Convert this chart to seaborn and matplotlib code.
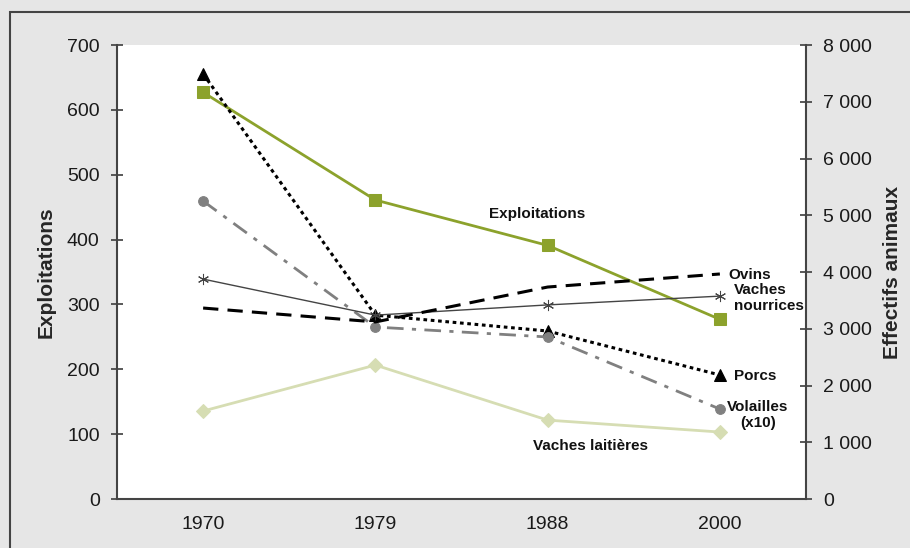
import numpy as np
import pandas as pd
import seaborn as sns
import matplotlib.pyplot as plt
from matplotlib.patches import Rectangle

# Data
years = ['1970', '1979', '1988', '2000']
exploitations = [627, 461, 391, 277]
porcs = [7490, 3240, 2960, 2185]
volailles = [5250, 3030, 2855, 1585]
vaches_nourrices = [3875, 3240, 3420, 3575]
ovins = [3365, 3120, 3735, 3965]
vaches_laitieres = [1550, 2360, 1390, 1180]

sns.set_theme(style='white')
plt.rcParams['font.family'] = ['Liberation Sans', 'DejaVu Sans']

fig = plt.figure(figsize=(9.1, 5.48), dpi=100)
fig.patch.set_facecolor('#e6e6e6')
fig.patches.append(Rectangle((10 / 910, -0.1), 1.0, 1 - 12 / 548 + 0.1,
                             transform=fig.transFigure, fill=False,
                             edgecolor='#444444', lw=1.5))

ax = fig.add_axes([117 / 910, 1 - 499 / 548, (806 - 117) / 910, (499 - 45) / 548])
ax2 = ax.twinx()
x = np.arange(len(years))

df_left = pd.DataFrame({'x': x, 'val': exploitations})
sns.lineplot(data=df_left, x='x', y='val', ax=ax, color='#8ca22c', lw=2,
             marker='s', markersize=8, markeredgecolor='#8ca22c')

animals = [
    (porcs, dict(color='black', ls=(0, (1.2, 1.2)), lw=2.2, marker='^', markersize=8)),
    (volailles, dict(color='#808080', ls=(0, (6, 3, 1.5, 3)), lw=2, marker='o', markersize=7)),
    (vaches_nourrices, dict(color='#444444', ls='-', lw=1, marker=(6, 2, 0), markersize=8)),
    (ovins, dict(color='black', ls=(0, (5, 3)), lw=2.2, marker=None)),
    (vaches_laitieres, dict(color='#d6ddb3', ls='-', lw=2, marker='D', markersize=7)),
]
for vals, kw in animals:
    d = pd.DataFrame({'x': x, 'val': vals})
    mk = kw.pop('marker')
    if mk is None:
        sns.lineplot(data=d, x='x', y='val', ax=ax2, **kw)
    else:
        sns.lineplot(data=d, x='x', y='val', ax=ax2, marker=mk,
                     markeredgecolor=kw['color'], **kw)

ax.set_xlim(-0.5, 3.5)
ax.set_ylim(0, 700)
ax2.set_ylim(0, 8000)
ax.set_yticks(range(0, 701, 100))
ax2.set_yticks(range(0, 8001, 1000))
ax2.set_yticklabels(['0'] + [f'{v // 1000} 000' for v in range(1000, 8001, 1000)])
ax.set_xticks(np.arange(-0.5, 3.6, 1))
ax.set_xticklabels([])
ax.set_xticks(x, minor=True)
ax.set_xticklabels(years, minor=True)
ax.tick_params(axis='x', which='minor', length=0, pad=12, labelsize=14, labelcolor='#1a1a1a')
ax.tick_params(axis='x', which='major', direction='inout', length=9, color='#444444')
ax.tick_params(axis='y', direction='inout', length=9, color='#444444', labelsize=14,
               labelcolor='#1a1a1a', pad=8)
ax2.tick_params(axis='y', direction='inout', length=9, color='#444444', labelsize=14,
                labelcolor='#1a1a1a', pad=8)

for a in (ax, ax2):
    a.set_xlabel('')
    for s in a.spines.values():
        s.set_visible(False)
ax.spines['left'].set_visible(True)
ax.spines['bottom'].set_visible(True)
ax2.spines['right'].set_visible(True)
for s in (ax.spines['left'], ax.spines['bottom'], ax2.spines['right']):
    s.set_color('#444444')
    s.set_linewidth(1.5)

ax.set_ylabel('Exploitations', fontsize=15, fontweight='bold', labelpad=8)
ax2.set_ylabel('Effectifs animaux', fontsize=15, fontweight='bold', labelpad=8)

lab = dict(fontsize=11, fontweight='bold', color='#111111')
ax.text(1.94, 439, 'Exploitations', ha='center', va='center', **lab)
ax2.text(3.05, 3950, 'Ovins', ha='left', va='center', **lab)
ax2.text(3.08, 3540, 'Vaches\nnourrices', ha='left', va='center', linespacing=1.15, **lab)
ax2.text(3.08, 2160, 'Porcs', ha='left', va='center', **lab)
ax2.text(3.22, 1480, 'Volailles\n(x10)', ha='center', va='center', linespacing=1.25,
         multialignment='center', **lab)
ax2.text(2.25, 940, 'Vaches laitières', ha='center', va='center', **lab)

fig.savefig('out.png', dpi=100, facecolor=fig.get_facecolor())
